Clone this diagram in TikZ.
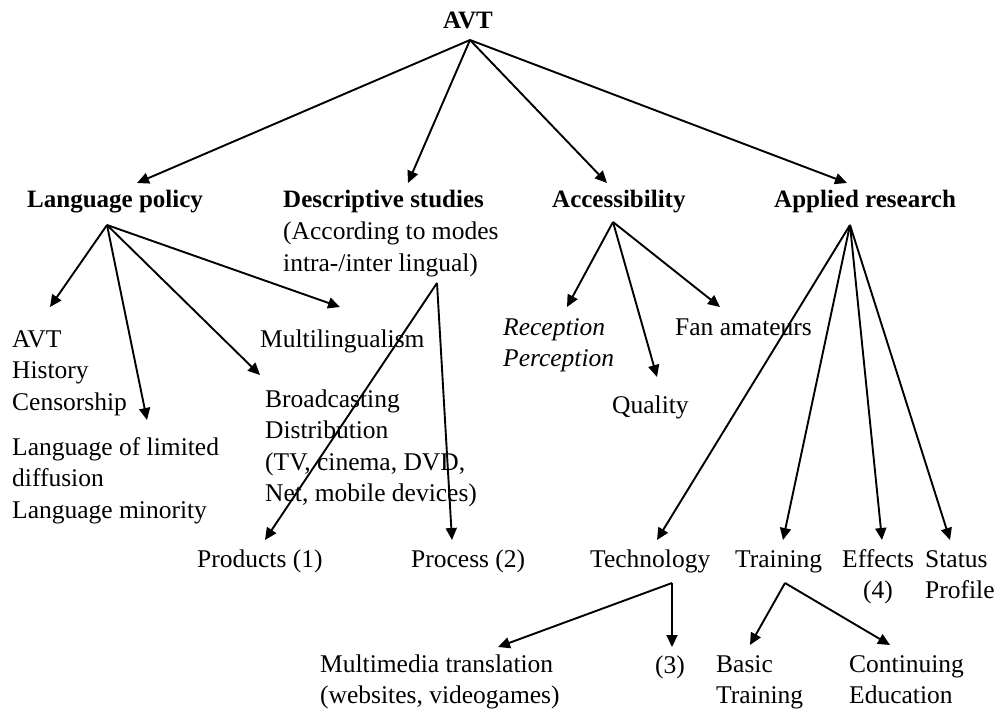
\documentclass[tikz,border=0pt]{standalone}
\usepackage{fontspec}
\setmainfont{Liberation Serif}
\usetikzlibrary{arrows.meta}
\begin{document}
\begin{tikzpicture}[x=1pt,y=-1pt,
  txt/.style={inner sep=0pt, anchor=base west, align=left, font=\fontsize{25.5}{31.5}\selectfont},
  hd/.style={inner sep=0pt, anchor=base west, font=\fontsize{25}{30}\selectfont\bfseries},
  arr/.style={line width=1.9pt, -{Triangle[length=12pt,width=11pt]}}]
\useasboundingbox (0,0) rectangle (1001,711);
% nodes (multi-line nodes are placed by the baseline of their last line)
\node[hd, anchor=base] (avt) at (468,29) {AVT};
\node[hd] (lp) at (27,208) {Language policy};
\node[hd] (ds) at (283,208) {Descriptive studies};
\node[txt] (dsn) at (283,271.5) {(According to modes\\intra-/inter lingual)};
\node[hd] (acc) at (552,208) {Accessibility};
\node[hd] (ar) at (774,208) {Applied research};
\node[txt] (hist) at (12,410) {AVT\\History\\Censorship};
\node[txt] (lim) at (12,518) {Language of limited\\diffusion\\Language minority};
\node[txt] (multi) at (260,347) {Multilingualism};
\node[txt] (broad) at (265,501.5) {Broadcasting\\Distribution\\(TV, cinema, DVD,\\Net, mobile devices)};
\node[txt] (prod) at (197,567) {Products (1)};
\node[txt] (proc) at (411,567) {Process (2)};
\node[txt, font=\fontsize{25.5}{31.5}\selectfont\itshape] (rec) at (503,366.5) {Reception\\Perception};
\node[txt] (fan) at (675,335) {Fan amateurs};
\node[txt] (qual) at (612,413) {Quality};
\node[txt] (tech) at (590,567) {Technology};
\node[txt] (train) at (735,567) {Training};
\node[txt, align=center] (eff) at (842,598.5) {Effects\\(4)};
\node[txt] (stat) at (925,598.5) {Status\\Profile};
\node[txt] (mm) at (320,703.5) {Multimedia translation\\(websites, videogames)};
\node[txt] (three) at (655,673) {(3)};
\node[txt] (basic) at (716,703.5) {Basic\\Training};
\node[txt] (cont) at (849,703.5) {Continuing\\Education};
% connector points
\coordinate (avt-o) at (470,40);
\coordinate (lp-i) at (137,183);
\coordinate (ds-i) at (408,183);
\coordinate (acc-i) at (607,183);
\coordinate (ar-i) at (847,183);
\coordinate (lp-o) at (107,225);
\coordinate (hist-i) at (50,307);
\coordinate (lim-i) at (147,420);
\coordinate (broad-i) at (260,375);
\coordinate (multi-i) at (340,307);
\coordinate (ds-o) at (437,283);
\coordinate (prod-i) at (265,540);
\coordinate (proc-i) at (452,540);
\coordinate (acc-o) at (613,222);
\coordinate (rec-i) at (567,307);
\coordinate (qual-i) at (657,377);
\coordinate (fan-i) at (720,307);
\coordinate (ar-o) at (850,225);
\coordinate (tech-i) at (657,540);
\coordinate (train-i) at (783,540);
\coordinate (eff-i) at (882,540);
\coordinate (stat-i) at (950,540);
\coordinate (tech-o) at (672,583);
\coordinate (mm-i) at (498,647);
\coordinate (three-i) at (672,647);
\coordinate (train-o) at (785,583);
\coordinate (basic-i) at (750,645);
\coordinate (cont-i) at (890,645);
% connectors
\foreach \s/\t in {avt-o/lp-i, avt-o/ds-i, avt-o/acc-i, avt-o/ar-i,
  lp-o/hist-i, lp-o/lim-i, lp-o/broad-i, lp-o/multi-i,
  ds-o/prod-i, ds-o/proc-i,
  acc-o/rec-i, acc-o/qual-i, acc-o/fan-i,
  ar-o/tech-i, ar-o/train-i, ar-o/eff-i, ar-o/stat-i,
  tech-o/mm-i, tech-o/three-i,
  train-o/basic-i, train-o/cont-i}
  \draw[arr] (\s) -- (\t);
\end{tikzpicture}
\end{document}
